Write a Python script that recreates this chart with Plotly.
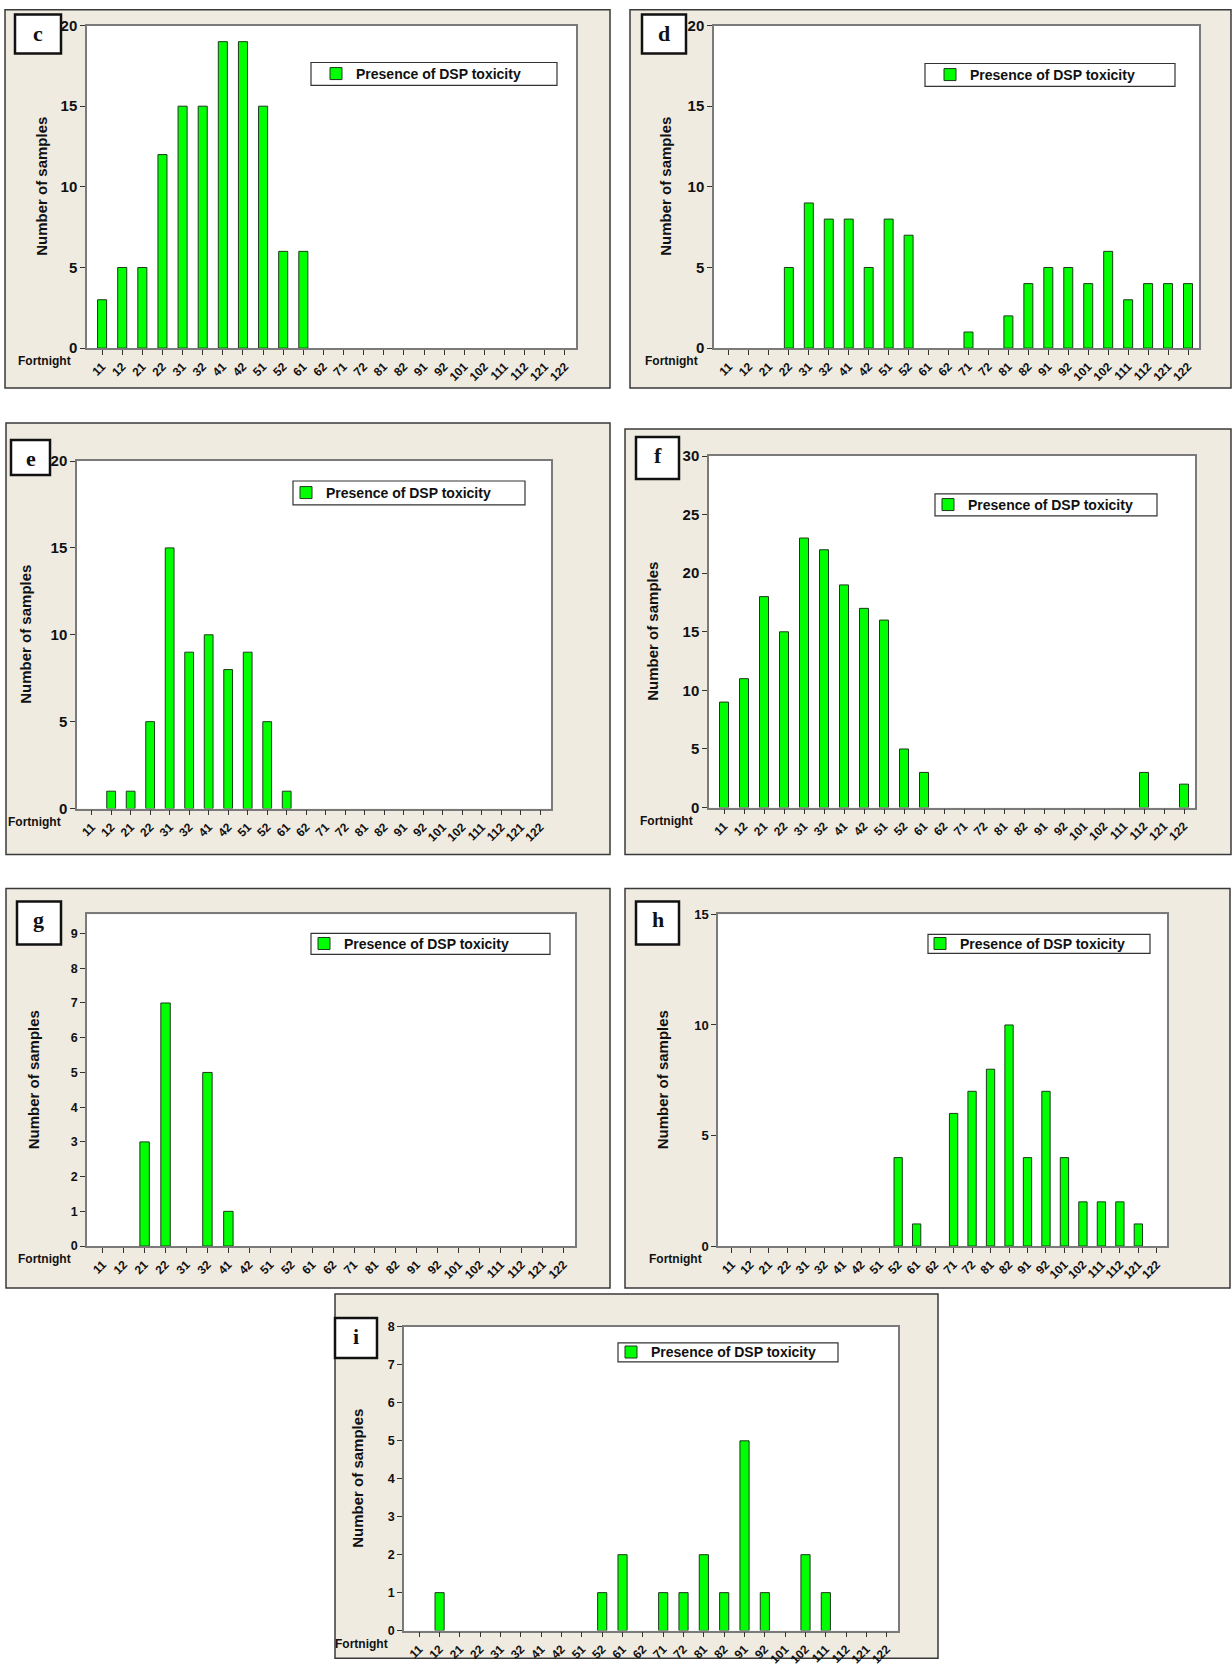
import plotly.graph_objects as go

# ---------------- data ----------------
FORTNIGHTS = ["11", "12", "21", "22", "31", "32", "41", "42", "51", "52", "61", "62",
              "71", "72", "81", "82", "91", "92", "101", "102", "111", "112", "121", "122"]
FORTNIGHTS_G = ["11", "12", "21", "22", "31", "32", "41", "42", "51", "52", "61", "62",
                "71", "81", "82", "91", "92", "101", "102", "111", "112", "121", "122"]

C_SAMPLES = [3, 5, 5, 12, 15, 15, 19, 19, 15, 6, 6, 0, 0, 0, 0, 0, 0, 0, 0, 0, 0, 0, 0, 0]
D_SAMPLES = [0, 0, 0, 5, 9, 8, 8, 5, 8, 7, 0, 0, 1, 0, 2, 4, 5, 5, 4, 6, 3, 4, 4, 4]
E_SAMPLES = [0, 1, 1, 5, 15, 9, 10, 8, 9, 5, 1, 0, 0, 0, 0, 0, 0, 0, 0, 0, 0, 0, 0, 0]
F_SAMPLES = [9, 11, 18, 15, 23, 22, 19, 17, 16, 5, 3, 0, 0, 0, 0, 0, 0, 0, 0, 0, 0, 3, 0, 2]
G_SAMPLES = [0, 0, 3, 7, 0, 5, 1, 0, 0, 0, 0, 0, 0, 0, 0, 0, 0, 0, 0, 0, 0, 0, 0]
H_SAMPLES = [0, 0, 0, 0, 0, 0, 0, 0, 0, 4, 1, 0, 6, 7, 8, 10, 4, 7, 4, 2, 2, 2, 1, 0]
I_SAMPLES = [0, 1, 0, 0, 0, 0, 0, 0, 0, 1, 2, 0, 1, 1, 2, 1, 5, 1, 0, 2, 1, 0, 0, 0]

SERIES_NAME = "Presence of DSP toxicity"
X_LABEL = "Fortnight"
Y_LABEL = "Number of samples"

# ---------------- layout geometry (pixels in the 1232x1667 picture) ----------------
W, H = 1232, 1667
Y_SHIFT, Y_SCALE = 7.45, 0.991   # compensation for the page's vertical offset
FONT = "Liberation Sans"

panels = [
    dict(letter="c", x=FORTNIGHTS, y=C_SAMPLES, outer=(5, 3, 610, 387), plot=(87, 24, 576, 347),
         label=(15, 13, 61, 52), lbox=(311, 61, 557, 84), ltext=361, yr=20, dt=5, ytx=42, yfs=15),
    dict(letter="d", x=FORTNIGHTS, y=D_SAMPLES, outer=(630, 3, 1231, 387), plot=(714, 24, 1199, 347),
         label=(642, 13, 686, 52), lbox=(925, 62, 1175, 85), ltext=975, yr=20, dt=5, ytx=666, yfs=15),
    dict(letter="e", x=FORTNIGHTS, y=E_SAMPLES, outer=(6, 422, 610, 854), plot=(77, 460, 551, 808),
         label=(11, 439, 50, 474), lbox=(293, 480, 525, 504), ltext=331, yr=20, dt=5, ytx=26, yfs=15),
    dict(letter="f", x=FORTNIGHTS, y=F_SAMPLES, outer=(625, 428, 1231, 854), plot=(709, 455, 1195, 807),
         label=(636, 436, 679, 478), lbox=(935, 493, 1157, 515), ltext=973, yr=30, dt=5, ytx=653, yfs=15),
    dict(letter="g", x=FORTNIGHTS_G, y=G_SAMPLES, outer=(6, 888, 610, 1288), plot=(87, 914, 575, 1246),
         label=(17, 901, 61, 944), lbox=(311, 933, 550, 954), ltext=349, yr=9.55, dt=1, ytx=33, yfs=12.5),
    dict(letter="h", x=FORTNIGHTS, y=H_SAMPLES, outer=(625, 888, 1230, 1288), plot=(718, 914, 1167, 1246),
         label=(636, 901, 679, 944), lbox=(928, 934, 1150, 953), ltext=965, yr=15, dt=5, ytx=662, yfs=13),
    dict(letter="i", x=FORTNIGHTS, y=I_SAMPLES, outer=(335, 1294, 938, 1666), plot=(404, 1327, 898, 1631),
         label=(335, 1318, 377, 1358), lbox=(618, 1343, 838, 1362), ltext=656, yr=8, dt=1, ytx=358, yfs=12.5),
]


def px(x):
    return x / W


def py(y):
    yy = (y - Y_SHIFT) / Y_SCALE
    yy = min(max(yy, 0.8), H - 0.8)
    return 1 - yy / H


fig = go.Figure()
shapes = []
annotations = []
layout = {}

for k, p in enumerate(panels):
    n = k + 1
    sfx = "" if n == 1 else str(n)
    leg = "legend" if n == 1 else f"legend{n}"
    l, t, r, b = p["plot"]

    fig.add_trace(go.Bar(
        x=p["x"], y=[v if v else None for v in p["y"]], name=SERIES_NAME,
        xaxis=f"x{sfx}", yaxis=f"y{sfx}", legend=leg,
        width=0.45,
        marker=dict(color="#00FF00", line=dict(color="#1c3a1c", width=1)),
        showlegend=True,
    ))

    layout[f"xaxis{sfx}"] = dict(
        domain=[px(l), px(r)], anchor=f"y{sfx}",
        type="category", categoryorder="array", categoryarray=p["x"],
        range=[-0.75, len(p["x"]) - 0.45],
        showline=True, linecolor="#7a7a7a", linewidth=1.5, mirror=True,
        ticks="outside", ticklen=5, tickcolor="#333", tickwidth=1,
        tickangle=-45, tickmode="array", tickvals=p["x"], ticktext=p["x"],
        tickfont=dict(family=FONT, size=12, color="#111", weight="bold"),
        showgrid=False, zeroline=False, fixedrange=True,
    )
    layout[f"yaxis{sfx}"] = dict(
        domain=[py(b), py(t)], anchor=f"x{sfx}",
        range=[0, p["yr"]], dtick=p["dt"], tick0=0,
        showline=True, linecolor="#7a7a7a", linewidth=1.5, mirror=True,
        ticks="outside", ticklen=5, tickcolor="#333", tickwidth=1,
        tickfont=dict(family=FONT, size=p["yfs"], color="#111", weight="bold"),
        showgrid=False, zeroline=False, fixedrange=True,
    )

    ox0, oy0, ox1, oy1 = p["outer"]
    shapes.append(dict(type="rect", xref="paper", yref="paper", layer="below",
                       x0=px(ox0), x1=px(ox1), y0=py(oy1), y1=py(oy0),
                       fillcolor="#EFEBE1", line=dict(color="#3a3a3a", width=1.5)))
    shapes.append(dict(type="rect", xref="paper", yref="paper", layer="below",
                       x0=px(l), x1=px(r), y0=py(b), y1=py(t),
                       fillcolor="#FFFFFF", line=dict(width=0)))
    lx0, ly0, lx1, ly1 = p["label"]
    shapes.append(dict(type="rect", xref="paper", yref="paper", layer="above",
                       x0=px(lx0), x1=px(lx1), y0=py(ly1), y1=py(ly0),
                       fillcolor="#FFFFFF", line=dict(color="#111", width=2.5)))
    # legend frame
    bx0, by0, bx1, by1 = p["lbox"]
    shapes.append(dict(type="rect", xref="paper", yref="paper", layer="above",
                       x0=px(bx0), x1=px(bx1), y0=py(by1), y1=py(by0),
                       fillcolor="#FFFFFF", line=dict(color="#333", width=1.2)))

    annotations.append(dict(text=p["letter"], xref="paper", yref="paper",
                            x=px((lx0 + lx1) / 2), y=py(ly0 + 4), xanchor="center", yanchor="top",
                            showarrow=False,
                            font=dict(family="Liberation Serif", size=22, color="#111", weight="bold")))
    annotations.append(dict(text=X_LABEL, xref="paper", yref="paper",
                            x=px(l - 14), y=py(b + 4), xanchor="right", yanchor="top",
                            showarrow=False,
                            font=dict(family=FONT, size=12, color="#111", weight="bold")))
    annotations.append(dict(text=Y_LABEL, xref="paper", yref="paper",
                            x=px(p["ytx"]), y=py((t + b) / 2), xanchor="center", yanchor="middle",
                            textangle=-90, showarrow=False,
                            font=dict(family=FONT, size=15, color="#111", weight="bold")))

    layout[leg] = dict(
        x=px(p["ltext"] - 45), y=py((by0 + by1) / 2), xanchor="left", yanchor="middle",
        bgcolor="rgba(0,0,0,0)", borderwidth=0,
        font=dict(family=FONT, size=14, color="#111", weight="bold"),
        itemclick=False, itemdoubleclick=False,
    )

fig.update_layout(
    width=W, height=H,
    margin=dict(l=0, r=0, t=0, b=0),
    paper_bgcolor="#FFFFFF", plot_bgcolor="rgba(0,0,0,0)",
    shapes=shapes, annotations=annotations,
    bargap=0.5,
    **layout,
)

fig.write_html("out.html", config={"displayModeBar": False},
               post_script="document.body.style.margin='0';document.body.style.padding='0';")
